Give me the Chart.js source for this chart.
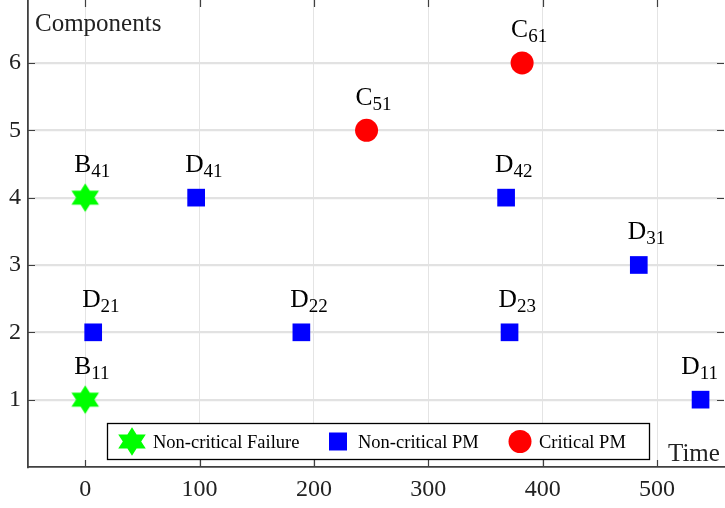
<!DOCTYPE html>
<html>
<head>
<meta charset="utf-8">
<script src="https://cdn.jsdelivr.net/npm/chart.js@4.4.1/dist/chart.umd.min.js"></script>
<style>
  body { margin: 0; background: #fff; }
  #wrap { width: 725px; height: 508px; }
</style>
</head>
<body>
<div id="wrap"><canvas id="plot"></canvas></div>
<script>
// datos
const failTimes = [0, 0];
const failComps = [1, 4];
const failLabels = [["B", "11"], ["B", "41"]];

const pmTimes = [7, 97, 189, 368, 371, 484, 538];
const pmComps = [2, 4, 2, 4, 2, 3, 1];
const pmLabels = [["D", "21"], ["D", "41"], ["D", "22"], ["D", "42"], ["D", "23"], ["D", "31"], ["D", "11"]];

const critTimes = [246, 382];
const critComps = [5, 6];
const critLabels = [["C", "51"], ["C", "61"]];

const xTicks = [0, 100, 200, 300, 400, 500];
const yTicks = [1, 2, 3, 4, 5, 6];

const seriesNames = ["Non-critical Failure", "Non-critical PM", "Critical PM"];

const SERIF = "'Liberation Serif', 'Times New Roman', serif";
const GREEN = "#00ff00";
const BLUE = "#0000ff";
const RED = "#ff0000";
const AXIS = "#404040";

// estrella de seis puntas como imagen
function makeStar(R, color) {
  const c = document.createElement("canvas");
  const sx = 1.12;
  const w = Math.ceil(R * 2 * sx + 2);
  const h = Math.ceil(R * 2 + 2);
  c.width = w;
  c.height = h;
  const g = c.getContext("2d");
  const r = R / Math.sqrt(3);
  g.beginPath();
  for (let i = 0; i < 12; i++) {
    const a = -Math.PI / 2 + (i * Math.PI) / 6;
    const rr = i % 2 === 0 ? R : r;
    const px = w / 2 + rr * Math.cos(a) * sx;
    const py = h / 2 + rr * Math.sin(a);
    if (i === 0) g.moveTo(px, py);
    else g.lineTo(px, py);
  }
  g.closePath();
  g.fillStyle = color;
  g.fill();
  return c;
}
const starImg = makeStar(14.2, GREEN);

const toPts = (xs, ys) => xs.map((x, i) => ({ x, y: ys[i] }));

// quitar el relleno que Chart.js deja para las etiquetas de los extremos
function noPad(s) {
  s.paddingTop = 0;
  s.paddingBottom = 0;
  s.paddingLeft = 0;
  s.paddingRight = 0;
}

// etiquetas con subindice encima de cada punto
const pointLabels = {
  id: "pointLabels",
  afterDatasetsDraw(chart) {
    const ctx = chart.ctx;
    const right = chart.chartArea.right - 6;
    ctx.save();
    ctx.fillStyle = "#000";
    ctx.textBaseline = "alphabetic";
    ctx.textAlign = "left";
    chart.data.datasets.forEach((ds, di) => {
      const meta = chart.getDatasetMeta(di);
      meta.data.forEach((el, i) => {
        const lab = ds.tags[i];
        ctx.font = "25.5px " + SERIF;
        const w = ctx.measureText(lab[0]).width;
        ctx.font = "19px " + SERIF;
        const ws = ctx.measureText(lab[1]).width;
        // que no se salga por la derecha
        const x0 = Math.min(el.x - 11, right - w - ws);
        ctx.font = "25.5px " + SERIF;
        ctx.fillText(lab[0], x0, el.y - 25.5);
        ctx.font = "19px " + SERIF;
        ctx.fillText(lab[1], x0 + w, el.y - 20.5);
      });
    });
    ctx.restore();
  },
};

// ticks hacia dentro, titulos de ejes y leyenda con marco
const frameExtras = {
  id: "frameExtras",
  afterDraw(chart) {
    const ctx = chart.ctx;
    const a = chart.chartArea;
    const xs = chart.scales.x;
    const ys = chart.scales.y;
    ctx.save();
    ctx.strokeStyle = AXIS;
    ctx.lineWidth = 1.2;
    ctx.beginPath();
    xTicks.forEach((v) => {
      const px = Math.round(xs.getPixelForValue(v)) + 0.5;
      ctx.moveTo(px, a.bottom);
      ctx.lineTo(px, a.bottom - 7);
      ctx.moveTo(px, a.top);
      ctx.lineTo(px, a.top + 7);
    });
    yTicks.forEach((v) => {
      const py = Math.round(ys.getPixelForValue(v)) + 0.5;
      ctx.moveTo(a.left, py);
      ctx.lineTo(a.left + 7, py);
      ctx.moveTo(a.right, py);
      ctx.lineTo(a.right - 7, py);
    });
    ctx.stroke();

    ctx.fillStyle = "#222";
    ctx.font = "25px " + SERIF;
    ctx.textAlign = "left";
    ctx.textBaseline = "alphabetic";
    ctx.fillText("Components", a.left + 7, 31);
    ctx.fillText("Time", 668, 461);

    // leyenda
    const bx = 107.5, by = 423.5, bw = 542, bh = 36;
    ctx.fillStyle = "#fff";
    ctx.fillRect(bx, by, bw, bh);
    ctx.strokeStyle = "#000";
    ctx.lineWidth = 1.3;
    ctx.strokeRect(bx, by, bw, bh);
    const cy = by + bh / 2;
    ctx.drawImage(starImg, 132 - starImg.width / 2, cy - starImg.height / 2);
    ctx.fillStyle = BLUE;
    ctx.fillRect(338 - 9, cy - 9, 18, 18);
    ctx.fillStyle = RED;
    ctx.beginPath();
    ctx.arc(520, cy, 11.5, 0, Math.PI * 2);
    ctx.fill();
    ctx.fillStyle = "#000";
    ctx.font = "18.5px " + SERIF;
    ctx.fillText(seriesNames[0], 153, cy + 6);
    ctx.fillText(seriesNames[1], 358, cy + 6);
    ctx.fillText(seriesNames[2], 539, cy + 6);
    ctx.restore();
  },
};

new Chart(document.getElementById("plot").getContext("2d"), {
  type: "scatter",
  data: {
    datasets: [
      {
        label: seriesNames[0],
        data: toPts(failTimes, failComps),
        tags: failLabels,
        pointStyle: starImg,
        backgroundColor: GREEN,
        borderWidth: 0,
      },
      {
        label: seriesNames[1],
        data: toPts(pmTimes, pmComps),
        tags: pmLabels,
        pointStyle: "rect",
        pointRadius: 12.5,
        backgroundColor: BLUE,
        borderWidth: 0,
      },
      {
        label: seriesNames[2],
        data: toPts(critTimes, critComps),
        tags: critLabels,
        pointStyle: "circle",
        pointRadius: 11.5,
        backgroundColor: RED,
        borderWidth: 0,
      },
    ],
  },
  options: {
    responsive: true,
    maintainAspectRatio: false,
    animation: false,
    clip: false,
    layout: { autoPadding: false, padding: { top: 0, left: 0, right: 1, bottom: 0 } },
    plugins: {
      legend: { display: false },
      tooltip: { enabled: false },
    },
    scales: {
      x: {
        type: "linear",
        min: -50,
        max: 558.5,
        afterBuildTicks: (s) => { s.ticks = xTicks.map((v) => ({ value: v })); },
        afterFit: (s) => { s.height = 41; noPad(s); },
        grid: { color: "#e4e4e4", lineWidth: 1, drawTicks: false },
        border: { display: true, color: AXIS, width: 1.8 },
        ticks: {
          padding: 8,
          maxRotation: 0,
          color: "#222",
          font: { family: SERIF, size: 24 },
        },
      },
      y: {
        type: "linear",
        min: 0,
        max: 6.935,
        afterBuildTicks: (s) => { s.ticks = yTicks.map((v) => ({ value: v })); },
        afterFit: (s) => { s.width = 28; noPad(s); },
        grid: { color: "#e2e2e2", lineWidth: 2.2, drawTicks: false },
        border: { display: true, color: AXIS, width: 1.8 },
        ticks: {
          padding: 7,
          color: "#222",
          font: { family: SERIF, size: 24 },
        },
      },
    },
  },
  plugins: [pointLabels, frameExtras],
});
</script>
</body>
</html>
